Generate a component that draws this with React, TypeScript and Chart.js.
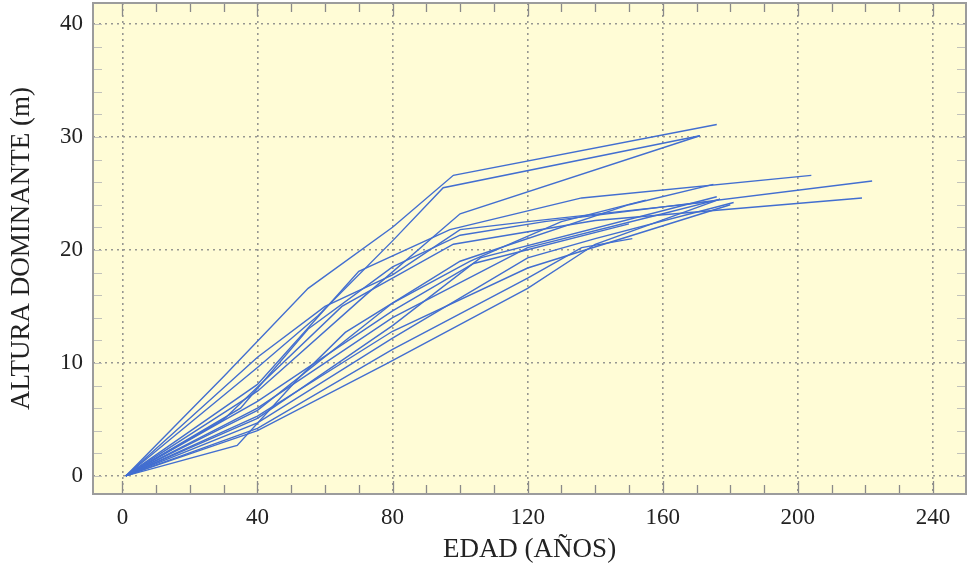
import React, { useEffect, useRef } from "react";
import { Chart, registerables } from "chart.js";

Chart.register(...registerables);

// Age (years) and dominant height (m) for each stand curve
const ages01 = [1, 30, 55, 80, 98, 176];
const heights01 = [0, 8.8, 16.6, 22.0, 26.6, 31.1];
const ages02 = [1, 40, 58, 80, 95, 171];
const heights02 = [0, 9.6, 14.2, 20.8, 25.5, 30.1];
const ages03 = [1, 40, 72, 100, 171];
const heights03 = [0, 7.5, 16.0, 23.2, 30.1];
const ages04 = [1, 40, 70, 97, 136, 204];
const heights04 = [0, 8.1, 18.1, 21.8, 24.6, 26.6];
const ages05 = [1, 35, 55, 80, 100, 125, 222];
const heights05 = [0, 6.0, 13.0, 18.5, 21.3, 22.5, 26.1];
const ages06 = [1, 30, 65, 98, 140, 219];
const heights06 = [0, 5.0, 15.0, 20.5, 22.6, 24.6];
const ages07 = [1, 34, 52, 66, 100, 150, 175];
const heights07 = [0, 2.7, 8.6, 12.7, 19.0, 24.0, 25.8];
const ages08 = [1, 40, 80, 104, 150];
const heights08 = [0, 6.6, 14.6, 18.8, 22.3];
const ages09 = [1, 40, 80, 103, 130, 155];
const heights09 = [0, 5.8, 15.3, 19.0, 22.5, 24.4];
const ages10 = [1, 40, 80, 106, 176];
const heights10 = [0, 5.1, 13.3, 19.3, 24.7];
const ages11 = [1, 40, 80, 120, 140, 181];
const heights11 = [0, 4.7, 12.2, 19.3, 21.0, 24.2];
const ages12 = [1, 40, 80, 120, 136, 151];
const heights12 = [0, 4.2, 11.2, 17.5, 20.2, 21.0];
const ages13 = [1, 40, 78, 120, 140, 177];
const heights13 = [0, 4.0, 9.9, 16.6, 20.5, 24.5];
const ages14 = [1, 40, 80, 120, 180];
const heights14 = [0, 5.3, 12.8, 18.4, 24.0];
const ages15 = [1, 40, 80, 120, 160, 177];
const heights15 = [0, 6.0, 14.0, 20.2, 23.2, 24.5];
const ages16 = [1, 40, 60, 80, 100, 120, 175];
const heights16 = [0, 10.5, 15.0, 17.8, 21.8, 22.5, 24.3];

const seriesAges = [ages01, ages02, ages03, ages04, ages05, ages06, ages07, ages08, ages09, ages10, ages11, ages12, ages13, ages14, ages15, ages16];
const seriesHeights = [heights01, heights02, heights03, heights04, heights05, heights06, heights07, heights08, heights09, heights10, heights11, heights12, heights13, heights14, heights15, heights16];

const xTickValues = [0, 40, 80, 120, 160, 200, 240];
const yTickValues = [0, 10, 20, 30, 40];
const xMinorStep = 10;
const yMinorStep = 2;

const xTitle = "EDAD (AÑOS)";
const yTitle = "ALTURA DOMINANTE (m)";

const frame = {
  id: "frame",
  beforeDraw(chart: any) {
    const { ctx, chartArea: a } = chart;
    ctx.save();
    ctx.fillStyle = "rgb(255,252,214)";
    ctx.fillRect(a.left, a.top, a.right - a.left, a.bottom - a.top);
    ctx.restore();
  },
  afterDraw(chart: any) {
    const { ctx, chartArea: a, scales } = chart;
    const xs = scales.x;
    const ys = scales.y;
    ctx.save();
    ctx.strokeStyle = "#8a8a8a";
    ctx.lineWidth = 1.3;
    ctx.beginPath();
    for (let v = 0; v <= 240; v += xMinorStep) {
      const px = Math.round(xs.getPixelForValue(v)) + 0.5;
      const len = v % 40 === 0 ? 13 : 9;
      ctx.moveTo(px, a.bottom);
      ctx.lineTo(px, a.bottom - len);
      ctx.moveTo(px, a.top);
      ctx.lineTo(px, a.top + len);
    }
    ctx.stroke();
    ctx.strokeStyle = "#c2c2ba";
    ctx.lineWidth = 1;
    ctx.beginPath();
    for (let v = 0; v <= 40; v += yMinorStep) {
      const py = Math.round(ys.getPixelForValue(v)) + 0.5;
      ctx.moveTo(a.left, py);
      ctx.lineTo(a.left + 9, py);
      ctx.moveTo(a.right, py);
      ctx.lineTo(a.right - 9, py);
    }
    ctx.stroke();
    ctx.strokeStyle = "#9c9c9c";
    ctx.lineWidth = 2;
    ctx.strokeRect(a.left, a.top, a.right - a.left, a.bottom - a.top);
    ctx.restore();
  },
};

export default function App() {
  const ref = useRef<HTMLCanvasElement | null>(null);
  useEffect(() => {
    document.body.style.margin = "0";
    const canvas = ref.current!;
    const datasets = seriesAges.map((ages, i) => ({
      label: "Curva " + (i + 1),
      data: ages.map((a, j) => ({ x: a, y: seriesHeights[i][j] })),
      borderColor: "rgb(66,110,208)",
      borderWidth: 1.4,
      pointRadius: 0,
      fill: false,
      tension: 0,
    }));
    const tickFont = { family: "'Liberation Serif', 'Times New Roman', serif", size: 23 };
    const titleFont = { family: "'Liberation Serif', 'Times New Roman', serif", size: 27 };
    const chart = new Chart(canvas, {
      type: "line",
      data: { datasets },
      plugins: [frame],
      options: {
        animation: false,
        responsive: false,
        maintainAspectRatio: false,
        layout: { padding: { top: 3, right: 2, left: 0, bottom: 0 } },
        plugins: { legend: { display: false }, tooltip: { enabled: false } },
        scales: {
          x: {
            type: "linear",
            min: -8.7,
            max: 249.8,
            afterBuildTicks: (s: any) => {
              s.ticks = xTickValues.map((v) => ({ value: v }));
            },
            afterFit: (s: any) => {
              s.height = 73;
              s.paddingLeft = 0;
              s.paddingRight = 0;
            },
            grid: { color: "#979791", lineWidth: 1.6, drawTicks: false },
            border: { display: false, dash: [2, 4] },
            ticks: { color: "#222", font: tickFont, padding: 10, maxRotation: 0, autoSkip: false },
            title: { display: true, text: xTitle, color: "#222", font: titleFont, padding: { top: 0, bottom: 1 } },
          },
          y: {
            type: "linear",
            min: -1.6,
            max: 41.85,
            afterBuildTicks: (s: any) => {
              s.ticks = yTickValues.map((v) => ({ value: v }));
            },
            afterFit: (s: any) => {
              s.width = 93;
              s.paddingTop = 0;
              s.paddingBottom = 0;
            },
            grid: { color: "#979791", lineWidth: 1.6, drawTicks: false },
            border: { display: false, dash: [2, 4] },
            ticks: { color: "#222", font: tickFont, padding: 10, autoSkip: false },
            title: { display: true, text: yTitle, color: "#222", font: titleFont, padding: { top: 6, bottom: 0 } },
          },
        },
      },
    });
    return () => chart.destroy();
  }, []);
  return (
    <div style={{ position: "absolute", left: 0, top: 0, width: 968, height: 567, background: "#fff" }}>
      <canvas ref={ref} width={968} height={567} style={{ display: "block", width: 968, height: 567 }} />
    </div>
  );
}
